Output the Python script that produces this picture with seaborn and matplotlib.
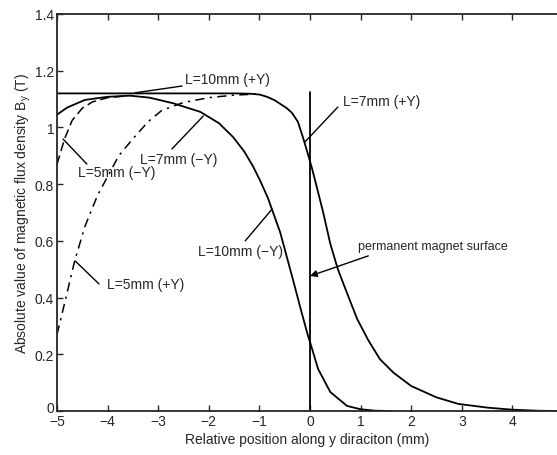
import matplotlib
matplotlib.use("Agg")
import matplotlib.pyplot as plt
import matplotlib.transforms as mtransforms
import seaborn as sns
import numpy as np
import pandas as pd

# ---- data ----
x_10p = [-5, -4, -3, -2, -1.5, -1.2, -1.0, -0.85, -0.7, -0.58, -0.46, -0.36, -0.24, -0.14, -0.04,
         0.04, 0.14, 0.26, 0.4, 0.55, 0.7, 0.93, 1.15, 1.38, 1.65, 2.0, 2.5, 2.93, 3.5,
         3.97, 4.5, 4.88]
y_10p = [1.12, 1.12, 1.12, 1.12, 1.12, 1.119, 1.116, 1.108, 1.096, 1.082, 1.068, 1.052, 1.02,
         0.965, 0.905, 0.855, 0.785, 0.70, 0.59, 0.50, 0.43, 0.325, 0.25, 0.183, 0.135,
         0.088, 0.048, 0.025, 0.012, 0.005, 0.001, 0.0]

x_10m = [-5, -4.8, -4.45, -4.0, -3.56, -3.17, -2.7, -2.17, -1.8, -1.52, -1.3, -1.13, -0.98,
         -0.83, -0.59, -0.34, -0.17, -0.04, 0.0, 0.16, 0.4, 0.73, 1.0, 1.3, 1.6]
y_10m = [1.045, 1.07, 1.097, 1.108, 1.112, 1.105, 1.085, 1.055, 1.015, 0.966, 0.915, 0.864,
         0.81, 0.75, 0.63, 0.465, 0.35, 0.265, 0.243, 0.148, 0.067, 0.018, 0.006, 0.001, 0.0]

x_5p = [-5, -4.85, -4.65, -4.45, -4.2, -3.78, -3.5, -3.2, -2.93, -2.5, -2.0, -1.5, -1.0]
y_5p = [0.27, 0.38, 0.53, 0.65, 0.76, 0.90, 0.96, 1.02, 1.06, 1.088, 1.105, 1.114, 1.118]

x_5m = [-5, -4.85, -4.7, -4.5, -4.3, -4.0, -3.7]
y_5m = [0.87, 0.96, 1.025, 1.068, 1.09, 1.105, 1.11]

x_ticks = [-5, -4, -3, -2, -1, 0, 1, 2, 3, 4]
y_ticks = [0, 0.2, 0.4, 0.6, 0.8, 1.0, 1.2, 1.4]
y_ticklabels = ["0", "0.2", "0.4", "0.6", "0.8", "1", "1.2", "1.4"]

sns.set_style("ticks")
plt.rcParams['font.family'] = ['Liberation Sans', 'DejaVu Sans']
plt.rcParams['mathtext.fontset'] = 'custom'
plt.rcParams['mathtext.rm'] = 'Liberation Sans'
plt.rcParams['mathtext.it'] = 'Liberation Sans'

fig = plt.figure(figsize=(5.57, 4.56), dpi=100)
ax = fig.add_axes([57/557, 44/456, 1 - 57/557, (412-15)/456])

lw = 1.3
sns.lineplot(x=x_10p, y=y_10p, ax=ax, color="black", lw=lw, sort=False)
sns.lineplot(x=x_10m, y=y_10m, ax=ax, color="black", lw=lw, sort=False)
sns.lineplot(x=x_5p, y=y_5p, ax=ax, color="black", lw=1.1, sort=False,
             linestyle=(0, (6, 3.5, 1.5, 3.5)))
sns.lineplot(x=x_5m, y=y_5m, ax=ax, color="black", lw=1.1, sort=False,
             linestyle=(0, (6, 3)))

# magnet surface line
ax.plot([0, 0], [0, 1.125], color="black", lw=1.3)

ax.set_xlim(-5, 4.88)
ax.set_ylim(0, 1.4)
ax.set_xticks(x_ticks)
ax.set_xticklabels([str(t).replace('-', '\u2212') for t in x_ticks])
ax.set_yticks(y_ticks)
ax.set_yticklabels(y_ticklabels)
ax.tick_params(direction="in", length=4, width=1, labelsize=10, top=True, pad=2)
for s in ["left", "bottom", "top"]:
    ax.spines[s].set_linewidth(1.3)
ax.spines["right"].set_visible(False)

# nudge the corner "0" label upward so it does not touch "-5"
lbl0 = ax.get_yticklabels()[0]
lbl0.set_transform(lbl0.get_transform() +
                   mtransforms.ScaledTranslation(0, 4/100, fig.dpi_scale_trans))

ax.set_xlabel("Relative position along y diraciton (mm)", fontsize=10, labelpad=3)
ax.set_ylabel("Absolute value of magnetic flux density B$_y$ (T)", fontsize=10, labelpad=1)

fs = 10
def lab(text, tx, ty, px0, py0, px1, py1):
    ax.text(tx, ty, text, fontsize=fs, ha="left", va="center")
    ax.plot([px0, px1], [py0, py1], color="black", lw=1.0)

lab("L=10mm (+Y)", -2.47, 1.171, -2.53, 1.146, -3.46, 1.122)
lab("L=7mm (+Y)", 0.65, 1.093, 0.55, 1.072, -0.1, 0.949)
lab("L=7mm (\u2212Y)", -3.36, 0.889, -2.73, 0.924, -2.11, 1.04)
lab("L=5mm (\u2212Y)", -4.58, 0.843, -4.41, 0.871, -4.88, 0.959)
lab("L=5mm (+Y)", -4.01, 0.448, -4.17, 0.448, -4.64, 0.529)
lab("L=10mm (\u2212Y)", -2.21, 0.564, -1.28, 0.60, -0.75, 0.712)

ax.text(0.95, 0.583, "permanent magnet surface", fontsize=9, ha="left", va="center")
ax.annotate("", xy=(0.0, 0.476), xytext=(1.15, 0.547),
            arrowprops=dict(arrowstyle="-|>", color="black", lw=1.0,
                            mutation_scale=10, shrinkA=0, shrinkB=0))

fig.savefig("out.png", dpi=100)
